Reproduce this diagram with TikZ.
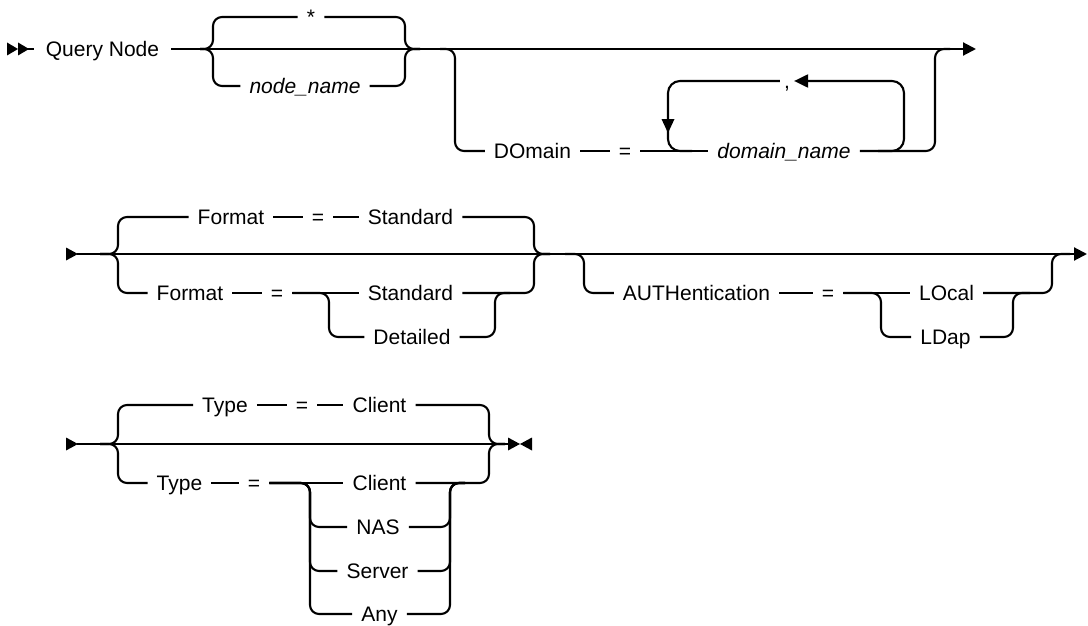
\documentclass[tikz,border=0pt]{standalone}
\usepackage{fontspec}
\setmainfont{Liberation Sans}
\usetikzlibrary{arrows.meta}
\begin{document}
\begin{tikzpicture}[x=1pt,y=-1pt,
  rail/.style={line width=2.1pt},
  rc/.style={rail, rounded corners=9pt},
  lab/.style={font=\fontsize{21pt}{25pt}\selectfont, inner xsep=9pt, inner ysep=0pt, text height=15pt, text depth=0pt},
  ital/.style={lab, font=\fontsize{21pt}{25pt}\selectfont\itshape},
  tip/.style={-{Triangle[length=13pt,width=13pt]}}]
\useasboundingbox (0,0) rectangle (1088,626);

% ---------- Row 1 ----------
\fill (7,42.5) -- (18,49) -- (7,55.5) -- cycle;
\fill (18,42.5) -- (29,49) -- (18,55.5) -- cycle;
\coordinate (s1) at (18,49);
\node[lab, inner xsep=12pt] (qn) at (102.5,49) {Query Node};
\draw[rail] (s1) -- (qn.west);
\coordinate (e1) at (976,49);
\draw[rail, tip] (qn.east) -- (e1);
\node[lab] (star) at (311,17) {*};
\node[ital] (nn) at (305,86) {node\_name};
\coordinate (b1) at (200,49);
\draw[rc] (b1) -| (213,17) -- (star.west);
\draw[rc] (b1) -| (213,86) -- (nn.west);
\coordinate (b2) at (420,49);
\draw[rc] (star.east) -| (405,49) -- (b2);
\draw[rc] (nn.east) -| (405,49) -- (b2);

\node[lab] (dom) at (532.5,151) {DOmain};
\node[lab] (eq1) at (625,151) {=};
\node[ital] (dn) at (784,151) {domain\_name};
\coordinate (b3) at (440,49);
\draw[rc] (b3) -| (455,151) -- (dom.west);
\draw[rail] (dom.east) -- (eq1.west);
\draw[rail] (eq1.east) -- (dn.west);
\coordinate (b4) at (950,49);
\draw[rc] (dn.east) -| (935,49) -- (b4);
\node[lab, inner xsep=4pt] (cm) at (787,81) {,};
\coordinate (l1) at (878,151);
\coordinate (l2) at (692,151);
\draw[rail, rounded corners=12pt, -{Triangle[length=14pt,width=13pt]}] (l1) -| (904,81) -- (cm.east);
\draw[rail, rounded corners=12pt] (cm.west) -| (668,151) -- (l2);
\fill (661.5,119) -- (674.5,119) -- (668,133) -- cycle;

% ---------- Row 2 ----------
\fill (66,247.5) -- (78,254) -- (66,260.5) -- cycle;
\coordinate (s2) at (77,254);
\coordinate (e2) at (1087,254);
\draw[rail, tip] (s2) -- (e2);
\node[lab] (f1) at (231,217) {Format};
\node[lab] (eq2) at (318,217) {=};
\node[lab] (sd1) at (410.5,217) {Standard};
\node[lab] (f2) at (190,293) {Format};
\node[lab] (eq3) at (277,293) {=};
\node[lab] (sd2) at (410.5,293) {Standard};
\node[lab] (det) at (412,337) {Detailed};
\coordinate (b5) at (100,254);
\draw[rc] (b5) -| (118,217) -- (f1.west);
\draw[rc] (b5) -| (118,293) -- (f2.west);
\draw[rail] (f1.east) -- (eq2.west);
\draw[rail] (eq2.east) -- (sd1.west);
\coordinate (b6) at (550,254);
\draw[rc] (sd1.east) -| (534,254) -- (b6);
\draw[rail] (f2.east) -- (eq3.west);
\draw[rail] (eq3.east) -- (sd2.west);
\draw[rc] (eq3.east) -| (329,337) -- (det.west);
\coordinate (b7) at (510,293);
\draw[rc] (det.east) -| (495,293) -- (b7);
\draw[rc] (sd2.east) -| (534,254) -- (b6);

\node[lab] (auth) at (696.5,293) {AUTHentication};
\node[lab] (eq4) at (828,293) {=};
\node[lab] (loc) at (946.5,293) {LOcal};
\node[lab] (ldp) at (945.5,337) {LDap};
\coordinate (b8) at (565,254);
\draw[rc] (b8) -| (584,293) -- (auth.west);
\draw[rail] (auth.east) -- (eq4.west);
\draw[rail] (eq4.east) -- (loc.west);
\draw[rc] (eq4.east) -| (881,337) -- (ldp.west);
\coordinate (b9) at (1030,293);
\draw[rc] (ldp.east) -| (1013,293) -- (b9);
\coordinate (b10) at (1070,254);
\draw[rc] (loc.east) -| (1052,254) -- (b10);

% ---------- Row 3 ----------
\fill (66,437.5) -- (78,444) -- (66,450.5) -- cycle;
\coordinate (s3) at (77,444);
\coordinate (e3) at (509,444);
\draw[rail] (s3) -- (e3);
\fill (508,437.5) -- (520,444) -- (508,450.5) -- cycle;
\fill (532,437.5) -- (520,444) -- (532,450.5) -- cycle;
\node[lab] (t1) at (225,405) {Type};
\node[lab] (eq5) at (302,405) {=};
\node[lab] (c1) at (379.5,405) {Client};
\node[lab] (t2) at (179.5,483) {Type};
\node[lab] (eq6) at (254,483) {=};
\node[lab] (c2) at (379.5,483) {Client};
\node[lab] (nas) at (378,527) {NAS};
\node[lab] (srv) at (377.5,571) {Server};
\node[lab] (any) at (379.5,614) {Any};
\coordinate (b11) at (100,444);
\draw[rc] (b11) -| (118,405) -- (t1.west);
\draw[rc] (b11) -| (118,483) -- (t2.west);
\draw[rail] (t1.east) -- (eq5.west);
\draw[rail] (eq5.east) -- (c1.west);
\coordinate (b12) at (505,444);
\draw[rc] (c1.east) -| (489,444) -- (b12);
\draw[rail] (t2.east) -- (eq6.west);
\draw[rail] (eq6.east) -- (c2.west);
\draw[rc] (eq6.east) -| (310,527) -- (nas.west);
\draw[rc] (eq6.east) -| (310,571) -- (srv.west);
\draw[rc] (eq6.east) -| (310,614) -- (any.west);
\coordinate (b13) at (465,483);
\draw[rc] (nas.east) -| (450,483) -- (b13);
\draw[rc] (srv.east) -| (450,483) -- (b13);
\draw[rc] (any.east) -| (450,483) -- (b13);
\draw[rc] (c2.east) -| (489,444) -- (b12);
\end{tikzpicture}
\end{document}
